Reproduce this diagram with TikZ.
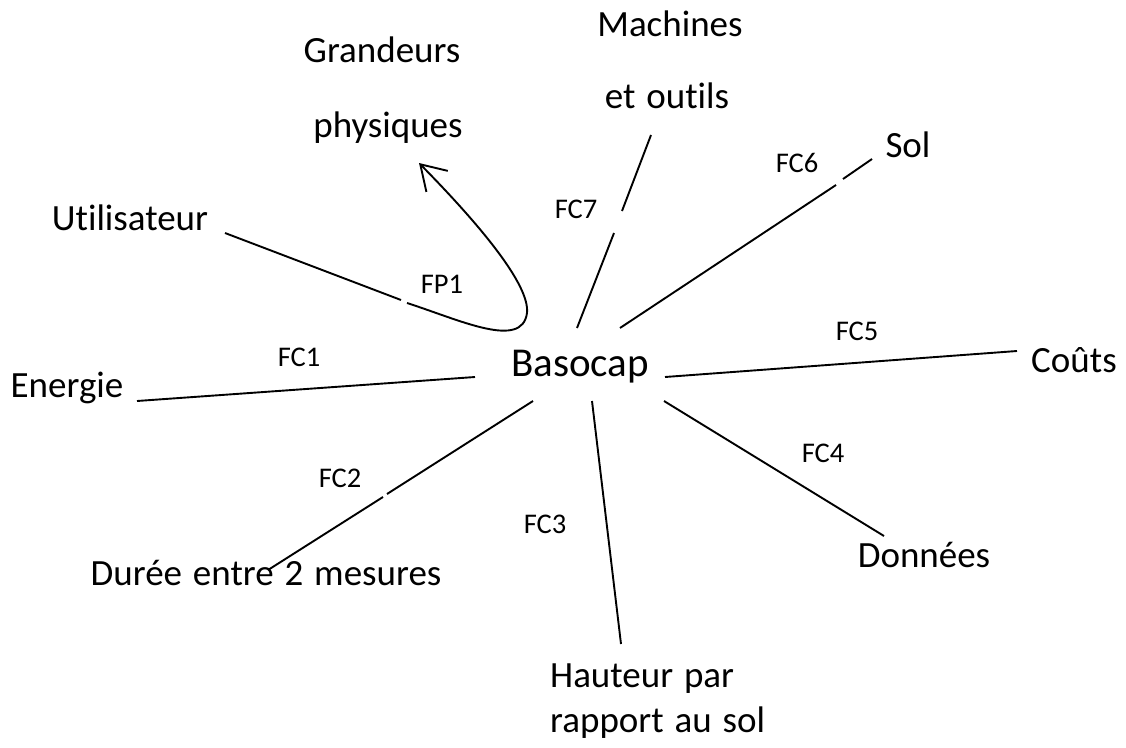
\documentclass[tikz,border=0pt]{standalone}
\usepackage{fontspec}
\setmainfont{Carlito}[Ligatures=CommonOff,WordSpace=1.3]
\usetikzlibrary{arrows.meta}
\begin{document}
\begin{tikzpicture}[x=1pt,y=-1pt,
  lbl/.style={anchor=base,inner sep=0pt,font=\fontsize{37}{44}\selectfont},
  fc/.style={anchor=base,inner sep=0pt,font=\fontsize{28.5}{34}\selectfont},
  ctr/.style={anchor=base,inner sep=0pt,font=\fontsize{41}{48}\selectfont},
  link/.style={line width=1.9pt,line cap=butt}]
\useasboundingbox (0,0) rectangle (1126,747);

% nodes
\node[ctr] (bas) at (580,376) {Basocap};
\node[lbl] (gr1) at (382,62) {Grandeurs};
\node[lbl] (gr2) at (388,137) {physiques};
\node[lbl] (ma1) at (670,36) {Machines};
\node[lbl] (ma2) at (667,108) {et outils};
\node[lbl] (sol) at (908,157) {Sol};
\node[lbl] (uti) at (130,230) {Utilisateur};
\node[lbl] (ene) at (67,397) {Energie};
\node[lbl] (cou) at (1074,372) {Coûts};
\node[lbl] (don) at (924,567) {Données};
\node[lbl] (dur) at (266,585) {Durée entre 2 mesures};
\node[lbl,anchor=base west] (ha1) at (550,687) {Hauteur par};
\node[lbl,anchor=base west] (ha2) at (550,732) {rapport au sol};

\node[fc] (fp1) at (442,293) {FP1};
\node[fc] (fc1) at (299,366) {FC1};
\node[fc] (fc2) at (340,487) {FC2};
\node[fc] (fc3) at (545,533) {FC3};
\node[fc] (fc4) at (823,462) {FC4};
\node[fc] (fc5) at (857,340) {FC5};
\node[fc] (fc6) at (797,172) {FC6};
\node[fc] (fc7) at (576,218) {FC7};

% connector end points
\coordinate (u0) at (225,233);
\coordinate (u1) at (401,300);
\coordinate (u2) at (407,303);
\coordinate (gtip) at (419,163);
\coordinate (e0) at (137,401);
\coordinate (e1) at (475,377);
\coordinate (d0) at (533,401);
\coordinate (d1) at (387,494);
\coordinate (d2) at (383,497);
\coordinate (d3) at (268,570);
\coordinate (h0) at (592,401);
\coordinate (h1) at (621,644);
\coordinate (n0) at (664,401);
\coordinate (n1) at (884,536);
\coordinate (c0) at (665,377);
\coordinate (c1) at (1017,351);
\coordinate (s0) at (620,328);
\coordinate (s1) at (836,185);
\coordinate (s2) at (843,179);
\coordinate (s3) at (872,159);
\coordinate (m0) at (577,328);
\coordinate (m1) at (614,233);
\coordinate (m2) at (622,211);
\coordinate (m3) at (651,135);

% connectors
\draw[link] (u0) -- (u1);
\draw[link,-{Straight Barb[length=24pt,width=30pt,line width=1.9pt]}] (u2) .. controls (460,320) and (522,350) .. (527,313) .. controls (530,285) and (480,225) .. (gtip);
\draw[link] (e0) -- (e1);
\draw[link] (d0) -- (d1);
\draw[link] (d2) -- (d3);
\draw[link] (h0) -- (h1);
\draw[link] (n0) -- (n1);
\draw[link] (c0) -- (c1);
\draw[link] (s0) -- (s1);
\draw[link] (s2) -- (s3);
\draw[link] (m0) -- (m1);
\draw[link] (m2) -- (m3);
\end{tikzpicture}
\end{document}
